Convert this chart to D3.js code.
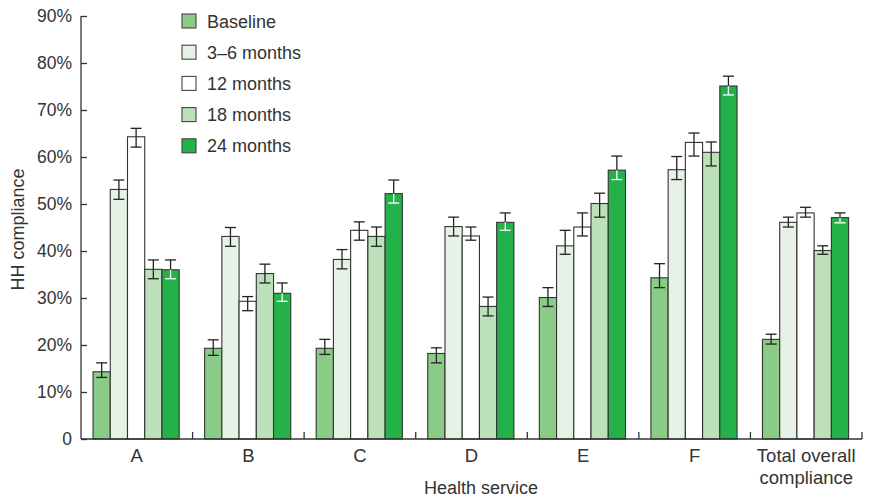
<!DOCTYPE html>
<html>
<head>
<meta charset="utf-8">
<script src="https://cdn.jsdelivr.net/npm/d3@7"></script>
<style>
  body { margin: 0; background: #fff; }
  text { font-family: "Liberation Sans", Arial, sans-serif; fill: #333; }
</style>
</head>
<body>
<div id="chart-area"></div>
<script>
const categories = ["A", "B", "C", "D", "E", "F", "Total overall compliance"];
const seriesNames = ["Baseline", "3-6 months", "12 months", "18 months", "24 months"];
const seriesColors = ["#8bcb88", "#e7f2e6", "#ffffff", "#bce0ba", "#23b14a"];

// values (%) per series, one per category
const baseline = [14.3, 19.3, 19.3, 18.2, 30.1, 34.3, 21.2];
const months3to6 = [53.1, 43.1, 38.2, 45.2, 41.1, 57.3, 46.1];
const months12 = [64.3, 29.3, 44.4, 43.2, 45.1, 63.1, 48.1];
const months18 = [36.1, 35.2, 43.1, 28.2, 50.1, 61.0, 40.1];
const months24 = [36.0, 31.0, 52.2, 46.1, 57.2, 75.1, 47.1];

// error bar low/high
const baselineErr = [[13.1, 16.2], [17.8, 21.1], [18.0, 21.2], [16.2, 19.4], [28.2, 32.2], [32.2, 37.3], [20.2, 22.3]];
const months3to6Err = [[51.0, 55.1], [41.0, 45.0], [36.2, 40.3], [43.2, 47.2], [39.3, 44.4], [55.2, 60.1], [45.1, 47.2]];
const months12Err = [[62.1, 66.1], [27.3, 30.3], [42.3, 46.2], [42.3, 45.1], [43.2, 48.1], [60.2, 65.1], [47.2, 49.3]];
const months18Err = [[34.1, 38.1], [33.2, 37.2], [41.0, 45.1], [26.2, 30.2], [47.2, 52.3], [58.1, 63.2], [39.3, 41.1]];
const months24Err = [[34.1, 38.1], [29.3, 33.2], [50.2, 55.1], [44.4, 48.1], [55.2, 60.2], [73.2, 77.2], [46.0, 48.1]];

const yTicks = [0, 10, 20, 30, 40, 50, 60, 70, 80, 90];

const allValues = [baseline, months3to6, months12, months18, months24];
const allErrs = [baselineErr, months3to6Err, months12Err, months18Err, months24Err];

const WIDTH = 869;
const HEIGHT = 498;
const margin = { left: 81, right: 7, top: 16, bottom: 59 };
const FONT = "'Liberation Sans', Arial, sans-serif";

const svg = d3.select("#chart-area").append("svg")
  .attr("width", WIDTH)
  .attr("height", HEIGHT);

const y = d3.scaleLinear()
  .domain([0, 90])
  .range([HEIGHT - margin.bottom, margin.top]);

const x = d3.scaleBand()
  .domain(categories)
  .range([margin.left, WIDTH - margin.right])
  .padding(0);

const bw = x.bandwidth();
const xInner = d3.scaleBand()
  .domain(seriesNames)
  .range([bw * 0.108, bw * 0.88])
  .padding(0);

const data = [];
categories.forEach((c, ci) => {
  seriesNames.forEach((s, si) => {
    data.push({
      cat: c, series: si, value: allValues[si][ci],
      lo: allErrs[si][ci][0], hi: allErrs[si][ci][1]
    });
  });
});

// bars
svg.append("g").selectAll("rect")
  .data(data)
  .enter()
  .append("rect")
  .attr("x", d => x(d.cat) + xInner(seriesNames[d.series]))
  .attr("y", d => y(d.value))
  .attr("width", xInner.bandwidth())
  .attr("height", d => y(0) - y(d.value))
  .attr("fill", d => seriesColors[d.series])
  .attr("stroke", "#333")
  .attr("stroke-width", 1.1);

// error bars
const capW = 5.5;
const errG = svg.append("g");
data.forEach(d => {
  const cx = x(d.cat) + xInner(seriesNames[d.series]) + xInner.bandwidth() / 2;
  const inside = d.series === 4 ? "#ffffff" : "#222";
  const g = errG.append("g").attr("stroke-width", 1.3);
  g.append("line")
    .attr("x1", cx).attr("x2", cx)
    .attr("y1", y(d.hi)).attr("y2", y(d.value))
    .attr("stroke", "#222");
  g.append("line")
    .attr("x1", cx).attr("x2", cx)
    .attr("y1", y(d.value)).attr("y2", y(d.lo))
    .attr("stroke", inside);
  g.append("line")
    .attr("x1", cx - capW).attr("x2", cx + capW)
    .attr("y1", y(d.hi)).attr("y2", y(d.hi))
    .attr("stroke", "#222");
  g.append("line")
    .attr("x1", cx - capW).attr("x2", cx + capW)
    .attr("y1", y(d.lo)).attr("y2", y(d.lo))
    .attr("stroke", inside);
});

// y axis
const yAxis = d3.axisLeft(y)
  .tickValues(yTicks)
  .tickSize(-6)
  .tickPadding(9)
  .tickFormat(d => d === 0 ? "0" : d + "%");
const yG = svg.append("g")
  .attr("transform", `translate(${margin.left},0)`)
  .call(yAxis);
yG.select(".domain").attr("stroke", "#333").attr("stroke-width", 1.3)
  .attr("d", `M0,${y(90)}V${y(0)}`);
yG.selectAll(".tick line").attr("stroke", "#333").attr("stroke-width", 1.3);
yG.selectAll(".tick text").attr("font-size", 17.5).attr("fill", "#333")
  .style("font-family", FONT);

// x axis
const xAxis = d3.axisBottom(x).tickSize(0).tickPadding(10);
const xG = svg.append("g")
  .attr("transform", `translate(0,${y(0)})`)
  .call(xAxis);
xG.select(".domain").attr("stroke", "#333").attr("stroke-width", 1.3)
  .attr("d", `M${margin.left},0H${WIDTH - margin.right}`);
xG.selectAll(".tick text")
  .attr("font-size", 18.5).attr("fill", "#333")
  .style("font-family", FONT)
  .each(function (d) {
    if (d === "Total overall compliance") {
      const t = d3.select(this).text(null);
      t.append("tspan").attr("x", 0).attr("dy", "0.71em").text("Total overall");
      t.append("tspan").attr("x", 0).attr("dy", "1.2em").text("compliance");
    }
  });

// separator ticks between categories
svg.append("g").selectAll("line")
  .data(categories)
  .enter()
  .append("line")
  .attr("x1", d => x(d) + bw).attr("x2", d => x(d) + bw)
  .attr("y1", y(0)).attr("y2", y(0) - 7)
  .attr("stroke", "#333").attr("stroke-width", 1.3);

// axis titles
svg.append("text")
  .attr("x", 481).attr("y", 494)
  .attr("text-anchor", "middle")
  .attr("font-size", 18)
  .text("Health service");

svg.append("text")
  .attr("transform", `translate(24,${(y(0) + y(90)) / 2 + 2}) rotate(-90)`)
  .attr("text-anchor", "middle")
  .attr("font-size", 18)
  .text("HH compliance");

// legend
const legend = svg.append("g").attr("transform", "translate(182,14)");
seriesNames.forEach((s, i) => {
  const row = legend.append("g").attr("transform", `translate(0,${i * 31.2})`);
  row.append("rect")
    .attr("width", 14).attr("height", 14)
    .attr("fill", seriesColors[i])
    .attr("stroke", "#444").attr("stroke-width", 1.1);
  row.append("text")
    .attr("x", 25).attr("y", 13.5)
    .attr("font-size", 18)
    .text(s.replace("3-6", "3–6"));
});
</script>
</body>
</html>
